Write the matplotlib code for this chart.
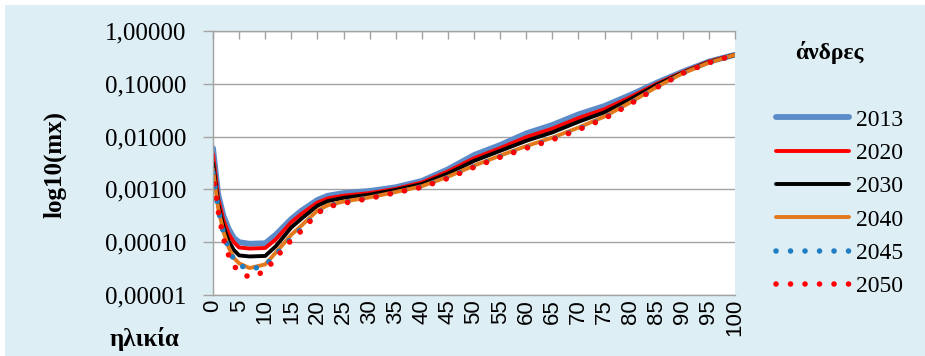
import numpy as np
import matplotlib.pyplot as plt
from matplotlib.lines import Line2D
from matplotlib.patches import Rectangle
from matplotlib.ticker import FixedLocator, FuncFormatter

# age nodes and log10 of the central death rate m(x), men, per projection year
ages = [0, 1, 2, 3, 4, 5, 7, 10, 12, 15, 17, 20, 22, 25, 30, 35, 40, 45, 50,
        55, 60, 65, 70, 75, 80, 85, 90, 95, 100]

log_m2013 = [-2.22, -3.10, -3.50, -3.75, -3.92, -4.00, -4.03, -4.02, -3.86, -3.56,
             -3.40, -3.20, -3.12, -3.07, -3.03, -2.96, -2.84, -2.62, -2.35, -2.16,
             -1.94, -1.78, -1.58, -1.42, -1.21, -0.98, -0.77, -0.58, -0.45]
log_m2020 = [-2.33, -3.18, -3.58, -3.84, -4.00, -4.10, -4.12, -4.11, -3.95, -3.62,
             -3.46, -3.25, -3.17, -3.12, -3.07, -2.99, -2.87, -2.66, -2.41, -2.22,
             -2.01, -1.85, -1.65, -1.48, -1.25, -1.00, -0.78, -0.58, -0.45]
log_m2030 = [-2.50, -3.28, -3.70, -3.98, -4.15, -4.25, -4.27, -4.26, -4.08, -3.72,
             -3.55, -3.31, -3.22, -3.16, -3.10, -3.01, -2.90, -2.70, -2.46, -2.27,
             -2.08, -1.92, -1.72, -1.54, -1.29, -1.02, -0.79, -0.59, -0.45]
log_m2040 = [-2.62, -3.36, -3.80, -4.10, -4.30, -4.40, -4.49, -4.42, -4.20, -3.86,
             -3.68, -3.40, -3.30, -3.23, -3.15, -3.05, -2.94, -2.76, -2.55, -2.36,
             -2.18, -2.02, -1.83, -1.62, -1.35, -1.06, -0.80, -0.60, -0.45]
log_m2045 = [-2.68, -3.38, -3.82, -4.13, -4.33, -4.43, -4.52, -4.44, -4.24, -3.93,
             -3.74, -3.45, -3.32, -3.25, -3.16, -3.06, -2.95, -2.78, -2.57, -2.38,
             -2.21, -2.05, -1.86, -1.65, -1.37, -1.07, -0.80, -0.60, -0.45]
log_m2050 = [-2.76, -3.42, -3.93, -4.25, -4.45, -4.55, -4.67, -4.55, -4.30, -3.96,
             -3.78, -3.45, -3.33, -3.26, -3.17, -3.06, -2.96, -2.79, -2.58, -2.39,
             -2.22, -2.06, -1.87, -1.66, -1.38, -1.07, -0.80, -0.60, -0.45]

years = ['2013', '2020', '2030', '2040', '2045', '2050']
series = [log_m2013, log_m2020, log_m2030, log_m2040, log_m2045, log_m2050]
colors = ['#5B8BC9', '#FF0000', '#000000', '#E4781B', '#1F7DC4', '#FF0000']
widths = [4.2, 2.8, 2.8, 2.8, 4.0, 4.0]
dots = (0.01, 2.6)
# round dots; the second dotted series is shifted half a period so they interleave
styles = ['-', '-', '-', '-', (0, dots), (1.3, dots)]

serif = 'Liberation Serif'
grid_col = '#A3A3A3'

fig = plt.figure(figsize=(9.25, 3.56), dpi=100, facecolor='white')
fig.patches.append(Rectangle((5 / 925, 0), 1, 1 - 5 / 356, transform=fig.transFigure,
                             facecolor='#DEEEF5', edgecolor='none', zorder=-10))

ax = fig.add_axes([213 / 925, 61 / 356, 522 / 925, 264 / 356])
ax.set_facecolor('white')

handles = []
for yr, vals, c, lw, ls in zip(years, series, colors, widths, styles):
    ax.plot(ages, 10 ** np.array(vals), color=c, lw=lw, ls=ls,
            solid_capstyle='round', dash_capstyle='round')
    key_ls = '-' if ls == '-' else (0, dots)
    handles.append(Line2D([], [], color=c, lw=lw, ls=key_ls,
                          solid_capstyle='round', dash_capstyle='round'))

ax.set_yscale('log')
ax.set_ylim(1e-5, 1)
ax.set_xlim(0, 100)

ax.yaxis.set_major_locator(FixedLocator([1e-5, 1e-4, 1e-3, 1e-2, 1e-1, 1]))
ax.yaxis.set_minor_locator(FixedLocator([]))
ax.yaxis.set_major_formatter(FuncFormatter(lambda v, p: f'{v:.5f}'.replace('.', ',')))
ax.grid(axis='y', color=grid_col, lw=1.0)
ax.tick_params(axis='y', direction='out', length=7, width=1.0, color=grid_col,
               pad=12, labelsize=18)
for lab in ax.get_yticklabels():
    lab.set_fontfamily(serif)

ax.set_xticks(range(0, 101, 5))
ax.tick_params(axis='x', top=True, bottom=False, labeltop=False, labelbottom=True,
               direction='in', length=6, width=1.0, color=grid_col, pad=3,
               labelsize=16, labelrotation=90)
for lab in ax.get_xticklabels():
    lab.set_fontfamily('Liberation Sans')

for side in ['top', 'bottom', 'left']:
    ax.spines[side].set_color(grid_col)
    ax.spines[side].set_linewidth(1.0)
ax.spines['right'].set_visible(False)

fig.text(55 / 925, 1 - 164 / 356, 'log10(mx)', rotation=90, ha='center', va='center',
         fontsize=18, fontweight='bold', family=serif)
fig.text(145 / 925, 1 - 339 / 356, 'ηλικία', ha='center', va='center',
         fontsize=18, fontweight='bold', family=serif)
fig.text(829 / 925, 1 - 52 / 356, 'άνδρες', ha='center', va='center',
         fontsize=17, fontweight='bold', family=serif)

fig.legend(handles, years, loc='upper left',
           bbox_to_anchor=(776 / 925, 1 - 109 / 356), frameon=False,
           prop={'family': serif, 'size': 17}, handlelength=3.1,
           handletextpad=0.3, labelspacing=0.5, borderpad=0, borderaxespad=0)

fig.savefig('out.png', dpi=100, facecolor=fig.get_facecolor())
